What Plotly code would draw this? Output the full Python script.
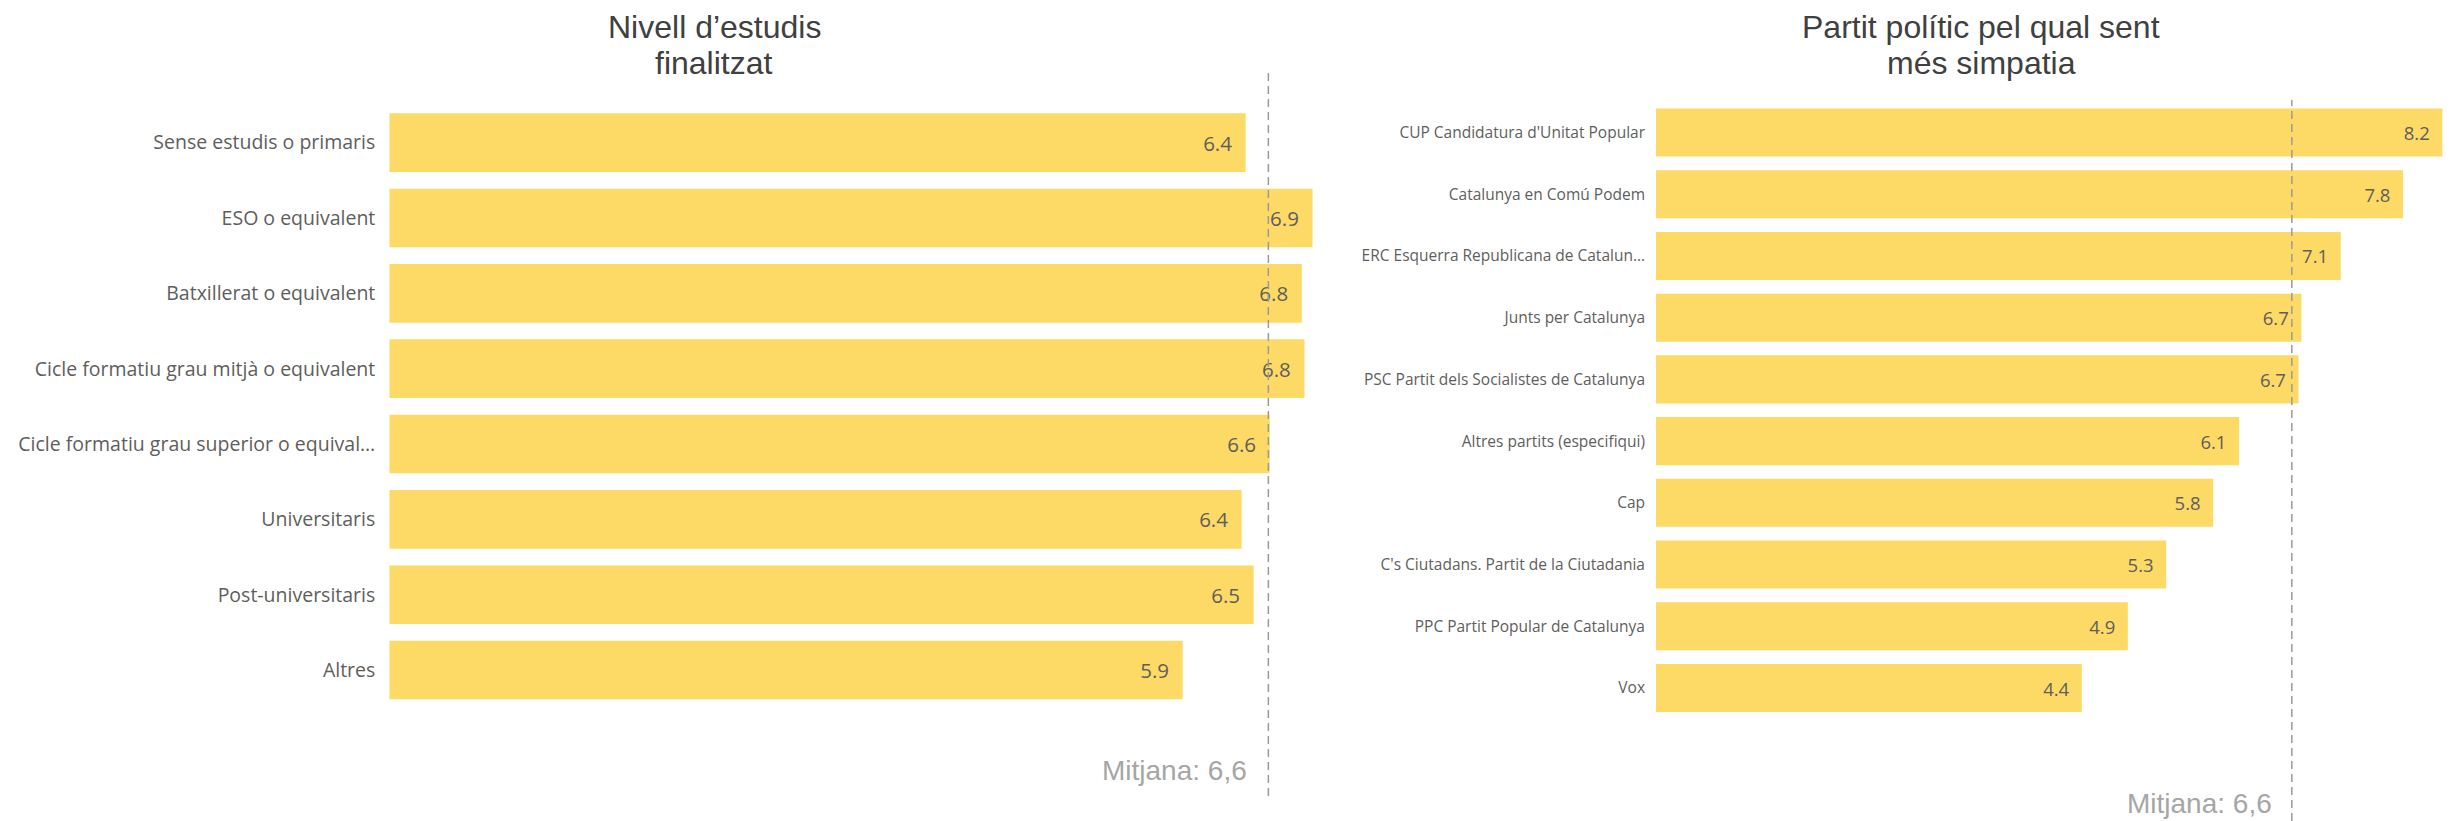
import plotly.graph_objects as go

W, H = 2463, 821

# ---- data ----
edu_title = ["Nivell d’estudis", "finalitzat"]
edu_categories = [
    "Sense estudis o primaris",
    "ESO o equivalent",
    "Batxillerat o equivalent",
    "Cicle formatiu grau mitjà o equivalent",
    "Cicle formatiu grau superior o equival…",
    "Universitaris",
    "Post-universitaris",
    "Altres",
]
edu_values = [6.40, 6.90, 6.82, 6.84, 6.58, 6.37, 6.46, 5.93]
edu_mean = 6.57

party_title = ["Partit polític pel qual sent", "més simpatia"]
party_categories = [
    "CUP Candidatura d'Unitat Popular",
    "Catalunya en Comú Podem",
    "ERC Esquerra Republicana de Catalun…",
    "Junts per Catalunya",
    "PSC Partit dels Socialistes de Catalunya",
    "Altres partits (especifiqui)",
    "Cap",
    "C's Ciutadans. Partit de la Ciutadania",
    "PPC Partit Popular de Catalunya",
    "Vox",
]
party_values = [8.20, 7.79, 7.14, 6.73, 6.70, 6.08, 5.81, 5.32, 4.92, 4.44]
party_mean = 6.63

mean_label = "Mitjana: 6,6"

# ---- style ----
BAR = "#FDDA66"
LABEL = "#605E5C"
FONT = "Open Sans"


def px_x(p):
    return p / W


def px_y(p):
    return (H - p) / H


fig = go.Figure()

fig.add_trace(go.Bar(
    x=edu_values, y=edu_categories, orientation="h",
    marker=dict(color=BAR, line=dict(width=0)),
    texttemplate="%{x:.1f}\u00a0\u00a0", textposition="inside",
    insidetextanchor="end", textangle=0, constraintext="none",
    insidetextfont=dict(family=FONT, size=20.5, color=LABEL),
    xaxis="x", yaxis="y", showlegend=False, hoverinfo="skip",
))

fig.add_trace(go.Bar(
    x=party_values, y=party_categories, orientation="h",
    marker=dict(color=BAR, line=dict(width=0)),
    texttemplate="%{x:.1f}\u00a0\u00a0", textposition="inside",
    insidetextanchor="end", textangle=0, constraintext="none",
    insidetextfont=dict(family=FONT, size=18.5, color=LABEL),
    xaxis="x2", yaxis="y2", showlegend=False, hoverinfo="skip",
))

left_x0 = 389.3
left_scale = 133.8
left_range = 7.0
right_x0 = 1656.0
right_scale = 95.9
right_range = 8.3

fig.update_layout(
    width=W, height=H,
    margin=dict(l=0, r=0, t=0, b=0),
    paper_bgcolor="white", plot_bgcolor="white",
    bargap=0.222,
    xaxis=dict(domain=[px_x(left_x0), px_x(left_x0 + left_scale * left_range)],
               range=[0, left_range], visible=False, fixedrange=True),
    yaxis=dict(domain=[px_y(707.7), px_y(105.0)],
               categoryorder="array", categoryarray=edu_categories,
               range=[len(edu_categories) - 0.5, -0.5],
               showgrid=False, zeroline=False, showline=False, ticks="",
               ticklabelstandoff=13,
               tickfont=dict(family=FONT, size=19.5, color=LABEL)),
    xaxis2=dict(domain=[px_x(right_x0), px_x(right_x0 + right_scale * right_range)],
                range=[0, right_range], visible=False, fixedrange=True,
                anchor="y2"),
    yaxis2=dict(domain=[px_y(718.9), px_y(101.6)], anchor="x2",
                categoryorder="array", categoryarray=party_categories,
                range=[len(party_categories) - 0.5, -0.5],
                showgrid=False, zeroline=False, showline=False, ticks="",
                ticklabelstandoff=10,
                tickfont=dict(family=FONT, size=15.5, color=LABEL)),
)

# mean lines
fig.add_shape(type="line", xref="x", yref="paper",
              x0=edu_mean, x1=edu_mean, y0=px_y(796), y1=px_y(68),
              line=dict(color="#9A9A9A", width=1.5, dash="8px,5px"))
fig.add_shape(type="line", xref="x2", yref="paper",
              x0=party_mean, x1=party_mean, y0=px_y(821), y1=px_y(100),
              line=dict(color="#9A9A9A", width=1.5, dash="8px,5px"))

# titles
TFONT = "Liberation Sans"
for (cx, lines) in [(714, edu_title), (1981, party_title)]:
    for line, cy in zip(lines, [27, 63]):
        fig.add_annotation(text=line, xref="paper", yref="paper",
                           x=px_x(cx), y=px_y(cy), xanchor="center", yanchor="middle",
                           showarrow=False,
                           font=dict(family=TFONT, size=32, color="#404040"))

# mean labels
fig.add_annotation(text=mean_label, xref="paper", yref="paper",
                   x=px_x(1249), y=px_y(770), xanchor="right", yanchor="middle",
                   showarrow=False,
                   font=dict(family=TFONT, size=28, color="#A6A6A6"))
fig.add_annotation(text=mean_label, xref="paper", yref="paper",
                   x=px_x(2274), y=px_y(803), xanchor="right", yanchor="middle",
                   showarrow=False,
                   font=dict(family=TFONT, size=28, color="#A6A6A6"))

fig.write_html(
    "out.html",
    config={"displayModeBar": False},
    post_script="document.body.style.margin='0';document.body.style.padding='0';"
                "document.body.style.overflow='hidden';",
)
